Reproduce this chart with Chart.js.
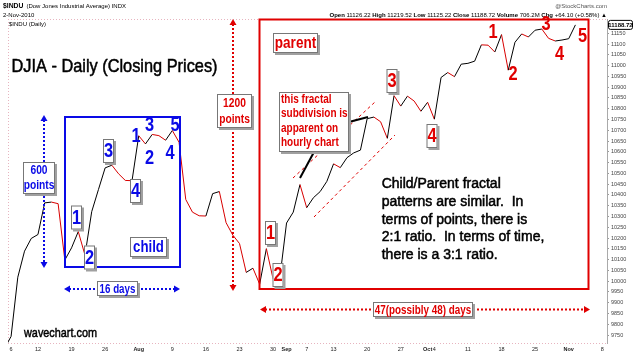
<!DOCTYPE html>
<html><head><meta charset="utf-8">
<script src="https://cdn.jsdelivr.net/npm/chart.js@4"></script>
<style>html,body{margin:0;padding:0;background:#fff;overflow:hidden}canvas{display:block}</style>
</head><body>
<canvas id="c" width="633" height="355"></canvas>
<script>
// ---- data (DJIA daily closes, Jul 2 – Nov 2 2010) ----
const dayLabels = [
 'Jul 2','Jul 6','Jul 7','Jul 8','Jul 9','Jul 12','Jul 13','Jul 14','Jul 15','Jul 16',
 'Jul 19','Jul 20','Jul 21','Jul 22','Jul 23','Jul 26','Jul 27','Jul 28','Jul 29','Jul 30',
 'Aug 2','Aug 3','Aug 4','Aug 5','Aug 6','Aug 9','Aug 10','Aug 11','Aug 12','Aug 13',
 'Aug 16','Aug 17','Aug 18','Aug 19','Aug 20','Aug 23','Aug 24','Aug 25','Aug 26','Aug 27',
 'Aug 30','Aug 31','Sep 1','Sep 2','Sep 3','Sep 7','Sep 8','Sep 9','Sep 10',
 'Sep 13','Sep 14','Sep 15','Sep 16','Sep 17','Sep 20','Sep 21','Sep 22','Sep 23','Sep 24',
 'Sep 27','Sep 28','Sep 29','Sep 30','Oct 1','Oct 4','Oct 5','Oct 6','Oct 7','Oct 8',
 'Oct 11','Oct 12','Oct 13','Oct 14','Oct 15','Oct 18','Oct 19','Oct 20','Oct 21','Oct 22',
 'Oct 25','Oct 26','Oct 27','Oct 28','Oct 29','Nov 1','Nov 2'];
const closes = [
 9686.48,9743.62,10018.28,10138.99,10198.03,10216.27,10363.02,10366.72,10359.31,10097.90,
 10154.43,10229.96,10120.53,10322.30,10424.62,10525.43,10537.69,10497.88,10467.16,10465.94,
 10674.38,10636.38,10680.43,10674.98,10653.56,10698.75,10644.25,10378.83,10319.95,10303.15,
 10302.01,10405.85,10415.54,10271.21,10213.62,10174.41,10040.45,10060.06,9985.81,10150.65,
 10009.73,10014.72,10269.47,10320.10,10447.93,10340.69,10387.01,10415.24,10462.77,
 10544.13,10526.49,10572.73,10594.83,10607.85,10753.62,10761.03,10739.31,10662.42,10860.26,
 10812.04,10858.14,10835.28,10788.05,10829.68,10751.27,10944.72,10967.65,10948.58,11006.48,
 11010.34,11020.40,11096.08,11094.57,11062.78,11143.69,10978.62,11107.97,11146.57,11132.56,
 11164.05,11169.46,11126.28,11113.95,11118.49,11124.62,11188.72];
// x-axis tick positions (trading-day index, Jul 6 = 0) and labels
const xTickIdx  = [0,4,9,14,19,24,29,34,39,41,44,48,53,58,62,63,68,73,78,83,88];
const xTickText = ['6','12','19','26','Aug','9','16','23','30','Sep','7','13','20','27','Oct','4','11','18','25','Nov','8'];
const monthTicks = ['Aug','Sep','Oct','Nov'];
const yTickVals = [9750,9800,9850,9900,9950,10000,10050,10100,10150,10200,10250,10300,10350,10400,
 10450,10500,10550,10600,10650,10700,10750,10800,10850,10900,10950,11000,11050,11100,11150];
const lastClose = '11188.72';
const quoteLine = [['Open',true],[' 11126.22 ',false],['High',true],[' 11219.52 ',false],['Low',true],[' 11125.22 ',false],
 ['Close',true],[' 11188.72 ',false],['Volume',true],[' 706.2M ',false],['Chg',true],[' +64.10 (+0.58%)',false],[' \u25B2',false]];

const SANS = "'Liberation Sans',Arial,sans-serif";
const BLUE = '#0a0ae6', RED = '#e00000';
const NK = 0.82; // horizontal compression emulating a narrow face

function nText(ctx, t, x, y, k){ ctx.fillText(t, x, y, ctx.measureText(t).width*k); }
function labelBox(ctx, lines, cx, cy, w, h, size, color, lh, k){
  const x = cx - w/2, y = cy - h/2;
  ctx.save();
  ctx.fillStyle = '#a0a0a0'; ctx.fillRect(x+2, y+2, w, h);
  ctx.fillStyle = '#fff'; ctx.fillRect(x, y, w, h);
  ctx.strokeStyle = '#777'; ctx.lineWidth = 1; ctx.strokeRect(x+0.5, y+0.5, w-1, h-1);
  ctx.fillStyle = color; ctx.font = 'bold '+size+'px '+SANS; ctx.textAlign = 'center'; ctx.textBaseline = 'middle';
  const n = lines.length;
  lines.forEach((t,i)=> nText(ctx, t, cx, cy + (i-(n-1)/2)*lh + 0.5, k||NK));
  ctx.restore();
}
function freeText(ctx, t, cx, cy, size, color){
  ctx.save(); ctx.fillStyle = color; ctx.font = 'bold '+size+'px '+SANS; ctx.textAlign='center'; ctx.textBaseline='middle';
  nText(ctx, t, cx, cy, NK); ctx.restore();
}
function arrowHead(ctx, x, y, dx, dy, color){
  const L = 6, W = 3.5;
  const nx = -dy, ny = dx;
  ctx.save(); ctx.fillStyle = color; ctx.beginPath();
  ctx.moveTo(x, y); ctx.lineTo(x - dx*L + nx*W, y - dy*L + ny*W); ctx.lineTo(x - dx*L - nx*W, y - dy*L - ny*W);
  ctx.closePath(); ctx.fill(); ctx.restore();
}
function dottedArrow(ctx, x1, y1, x2, y2, color){
  const len = Math.hypot(x2-x1, y2-y1), dx=(x2-x1)/len, dy=(y2-y1)/len;
  ctx.save(); ctx.strokeStyle = color; ctx.lineWidth = 2; ctx.setLineDash([2,2]);
  ctx.beginPath(); ctx.moveTo(x1+dx*5, y1+dy*5); ctx.lineTo(x2-dx*5, y2-dy*5); ctx.stroke(); ctx.restore();
  arrowHead(ctx, x1, y1, -dx, -dy, color); arrowHead(ctx, x2, y2, dx, dy, color);
}
function line(ctx, x1,y1,x2,y2,color,w,dash){
  ctx.save(); ctx.strokeStyle=color; ctx.lineWidth=w; ctx.setLineDash(dash||[]);
  ctx.beginPath(); ctx.moveTo(x1,y1); ctx.lineTo(x2,y2); ctx.stroke(); ctx.restore();
}
function heavyText(ctx, t, x, y, maxW){
  ctx.fillText(t, x, y, maxW); ctx.strokeText(t, x, y, maxW);
}

const frame = {
  id:'frame',
  beforeDraw(chart){
    const ctx = chart.ctx, a = chart.chartArea;
    ctx.save(); ctx.fillStyle='#fff'; ctx.fillRect(0,0,chart.width,chart.height);
    ctx.strokeStyle='#e7b4bf'; ctx.lineWidth=1; ctx.setLineDash([1,2]);
    ctx.beginPath();
    ctx.moveTo(a.left+0.5, a.top); ctx.lineTo(a.left+0.5, a.bottom);
    ctx.moveTo(a.left, a.top+0.5); ctx.lineTo(a.right, a.top+0.5);
    ctx.moveTo(a.left, a.bottom+0.5); ctx.lineTo(a.right, a.bottom+0.5);
    ctx.stroke(); ctx.restore();
  },
  afterDraw(chart){
    const ctx = chart.ctx, a = chart.chartArea;
    // header
    ctx.save(); ctx.textBaseline='middle'; ctx.fillStyle='#000';
    ctx.font = "bold 8px "+SANS; nText(ctx, '$INDU', 3, 6, 0.85);
    let w = ctx.measureText('$INDU').width*0.85;
    ctx.font = "6px "+SANS; ctx.fillText('(Dow Jones Industrial Average) INDX', 3+w+3, 6);
    ctx.fillText('2-Nov-2010', 3, 15);
    ctx.fillText('$INDU (Daily)', a.left+1, 24.5);
    ctx.fillStyle='#555'; ctx.textAlign='right'; ctx.fillText('@StockCharts.com', 607, 6);
    // quote line
    ctx.textAlign='left';
    let tot = 0;
    quoteLine.forEach(([t,b])=>{ ctx.font=(b?'bold ':'')+'6px '+SANS; tot += ctx.measureText(t).width; });
    let x = 607 - tot; ctx.fillStyle='#000';
    quoteLine.forEach(([t,b])=>{ ctx.font=(b?'bold ':'')+'6px '+SANS; ctx.fillText(t, x, 15); x += ctx.measureText(t).width; });
    // last value box
    const yl = chart.scales.y.getPixelForValue(closes[closes.length-1]);
    ctx.fillStyle='#fff'; ctx.strokeStyle='#000'; ctx.lineWidth=1;
    ctx.beginPath(); ctx.roundRect(608.5, yl-4.5, 24, 9, 2); ctx.fill(); ctx.stroke();
    ctx.fillStyle='#000'; ctx.font='bold 6px '+SANS; ctx.textAlign='center'; ctx.fillText(lastClose, 620.5, yl+0.5);
    ctx.restore();

    // title, site, comment
    ctx.save(); ctx.fillStyle='#000'; ctx.strokeStyle='#000'; ctx.lineWidth=0.5; ctx.textBaseline='alphabetic';
    ctx.font = "18.5px "+SANS; heavyText(ctx, 'DJIA - Daily (Closing Prices)', 11.5, 71.5, 206);
    ctx.font = "13.5px "+SANS; heavyText(ctx, 'wavechart.com', 24, 337, 73);
    ctx.font = "14px "+SANS;
    const block = ['Child/Parent fractal','patterns are similar.  In','terms of points, there is','2:1 ratio.  In terms of time,','there is a 3:1 ratio.'];
    const kb = 163 / ctx.measureText(block[3]).width;
    block.forEach((t,i)=>heavyText(ctx, t, 381.7, 188.3 + i*17.7, ctx.measureText(t).width*kb));
    ctx.restore();

    // child box
    ctx.save(); ctx.strokeStyle=BLUE; ctx.lineWidth=2; ctx.strokeRect(65,117,115,150); ctx.restore();
    // parent box
    ctx.save(); ctx.strokeStyle=RED; ctx.lineWidth=2; ctx.strokeRect(259.5,19.5,329,269.5); ctx.restore();

    // arrows
    dottedArrow(ctx, 44, 115, 44, 268, BLUE);
    dottedArrow(ctx, 64, 289, 180, 289, BLUE);
    dottedArrow(ctx, 233, 19, 233, 291, RED);
    dottedArrow(ctx, 260, 309.5, 590, 309.5, RED);

    // channel lines & pointers
    line(ctx, 293,178,375,102, RED, 1, [3,3]);
    line(ctx, 314,217,395,135, RED, 1, [3,3]);
    line(ctx, 300,178,314,152, '#000', 2);
    line(ctx, 349,122,368,117, '#000', 2);

    // label boxes
    labelBox(ctx, ['600','points'], 39, 178, 32, 32, 12.5, BLUE, 15);
    labelBox(ctx, ['16 days'], 117.5, 288.5, 41, 15, 13, BLUE, 14, 0.75);
    labelBox(ctx, ['child'], 148.5, 247, 37, 20, 17, BLUE, 18, 0.78);
    labelBox(ctx, ['1200','points'], 234.5, 111, 35, 34, 12.5, RED, 15.5);
    labelBox(ctx, ['parent'], 295.5, 43, 45, 20, 16.5, RED, 16);
    labelBox(ctx, ['47(possibly 48) days'], 423, 309.5, 100, 15, 13.5, RED, 14, 0.73);
    // hourly chart note (left aligned)
    ctx.save();
    ctx.fillStyle='#a0a0a0'; ctx.fillRect(281,94,70,60);
    ctx.fillStyle='#fff'; ctx.fillRect(279,92,70,60);
    ctx.strokeStyle='#777'; ctx.lineWidth=1; ctx.strokeRect(279.5,92.5,69,59);
    ctx.fillStyle=RED; ctx.font='bold 12.5px '+SANS; ctx.textBaseline='middle';
    ['this fractal','subdivision is','apparent on','hourly chart'].forEach((t,i)=>nText(ctx, t, 281, 99.5+i*14.5, 0.8));
    ctx.restore();

    // wave labels
    const WS = 20;
    [['1',76.5,217.5],['2',89.5,257.5],['3',108.5,151],['4',135.5,191]].forEach(([t,x,y])=>labelBox(ctx,[t],x,y,11,24,WS,BLUE,20));
    [['1',136,136],['3',149.5,125],['5',175,125],['2',149.5,158.5],['4',170,153]].forEach(([t,x,y])=>freeText(ctx,t,x,y,WS,BLUE));
    [['1',270.5,233],['2',278,275],['3',392,81],['4',432,136]].forEach(([t,x,y])=>labelBox(ctx,[t],x,y,11,24,WS,RED,20));
    [['1',493,32],['2',513,74.5],['3',546,24.5],['4',559.5,54.5],['5',582.5,36]].forEach(([t,x,y])=>freeText(ctx,t,x,y,WS,RED));
  }
};

new Chart(document.getElementById('c'), {
  type:'line',
  data:{ datasets:[{
    data: closes.map((v,i)=>({x:i-1, y:v})),
    borderColor:'#000', borderWidth:1, pointRadius:0, tension:0, clip:0,
    segment:{ borderColor: c => c.p1.parsed.y < c.p0.parsed.y ? '#d80000' : '#000' }
  }]},
  options:{
    responsive:false, animation:false, events:[],
    layout:{padding:{left:8, top:19, right:0, bottom:0}},
    plugins:{legend:{display:false}, tooltip:{enabled:false}},
    scales:{
      x:{ type:'linear', min:-0.46, max:88.7,
        grid:{display:false, drawTicks:false}, border:{display:false},
        afterBuildTicks: s => { s.ticks = xTickIdx.map(v=>({value:v})); },
        afterFit: s => { s.height = 12; },
        ticks:{ autoSkip:false, maxRotation:0, padding:3, color:'#222',
          font: c => ({family:SANS, size:5.5, weight: monthTicks.includes(xTickText[xTickIdx.indexOf(c.tick && c.tick.value)]) ? 'bold':'normal'}),
          callback: v => xTickText[xTickIdx.indexOf(v)] }
      },
      y:{ type:'linear', position:'right', min:9713, max:11216,
        grid:{drawOnChartArea:false, tickLength:2, color:'#999'}, border:{display:true, color:'#aaa'},
        afterBuildTicks: s => { s.ticks = yTickVals.map(v=>({value:v})); },
        afterFit: s => { s.width = 26; },
        ticks:{ color:'#444', padding:2, font:{family:SANS, size:5.5}, callback: v => String(v) }
      }
    }
  },
  plugins:[frame]
});
</script>
</body></html>
